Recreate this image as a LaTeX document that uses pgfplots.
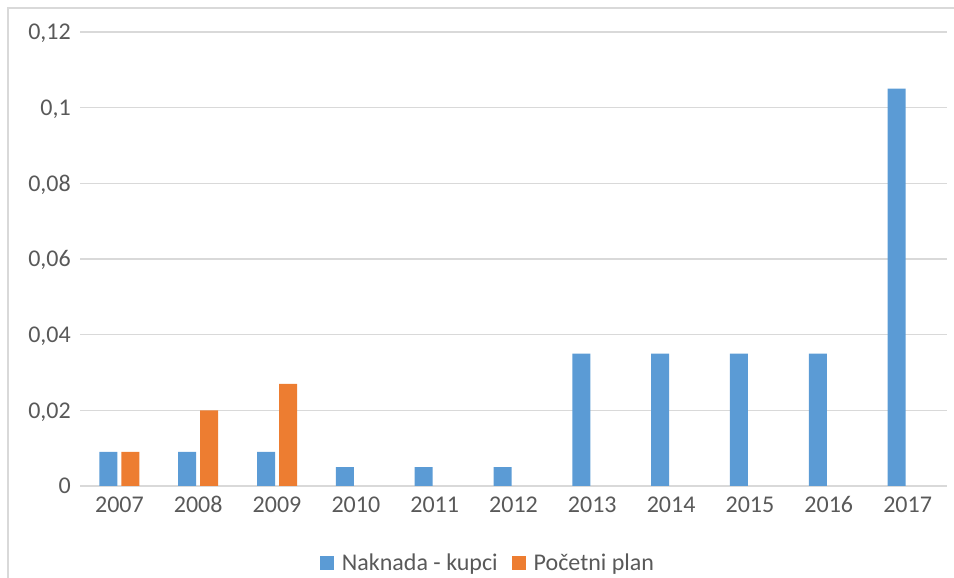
\documentclass[border=0pt]{standalone}
\usepackage{fontspec}
\setmainfont{Carlito}
\usepackage{pgfplots}
\pgfplotsset{compat=1.18}
\definecolor{cblue}{HTML}{5B9BD5}
\definecolor{corange}{HTML}{ED7D31}
\definecolor{gridgray}{HTML}{D9D9D9}
\definecolor{textgray}{HTML}{595959}
\begin{document}
\begin{tikzpicture}
\useasboundingbox (0,0) rectangle (954bp,578bp);
\draw[gridgray, line width=1.2bp] (8bp,-20bp) -- (8bp,570bp) -- (990bp,570bp);
\begin{axis}[
  at={(80bp,92bp)}, anchor=south west,
  scale only axis, width=867bp, height=454bp,
  ybar, bar width=18bp,
  xmin=-0.5, xmax=10.5, ymin=0, ymax=0.12,
  xtick={0,...,10},
  xticklabels={2007,2008,2009,2010,2011,2012,2013,2014,2015,2016,2017},
  ytick={0,0.02,0.04,0.06,0.08,0.1,0.12},
  yticklabels={0,{0,02},{0,04},{0,06},{0,08},{0,1},{0,12}},
  major tick length=0pt,
  axis line style={draw=none},
  ymajorgrids, grid style={gridgray, line width=1.2bp},
  tick label style={font=\fontsize{24bp}{28bp}\selectfont, text=textgray,
    text height=15.5bp, text depth=0pt},
  yticklabel style={inner sep=0pt, xshift=-9bp},
  xticklabel style={inner sep=0pt, yshift=-11bp},
  legend style={draw=none, fill=none, at={(0.4706,-0.1696)}, anchor=center,
    font=\fontsize{24bp}{28bp}\selectfont, text=textgray,
    /tikz/every odd column/.append style={column sep=6bp},
    /tikz/every even column/.append style={column sep=12bp}},
  legend columns=2,
  legend image code/.code={\fill[#1] (0bp,-7bp) rectangle (14bp,7bp);},
]
\addplot[fill=cblue, draw=none, bar shift=-11bp] coordinates {
  (0,0.009) (1,0.009) (2,0.009) (3,0.005) (4,0.005) (5,0.005)
  (6,0.035) (7,0.035) (8,0.035) (9,0.035) (10,0.105)};
\addlegendentry{Naknada - kupci}
\addplot[fill=corange, draw=none, bar shift=11bp] coordinates {
  (0,0.009) (1,0.020) (2,0.027)};
\addlegendentry{Početni plan}
\end{axis}
\end{tikzpicture}
\end{document}
